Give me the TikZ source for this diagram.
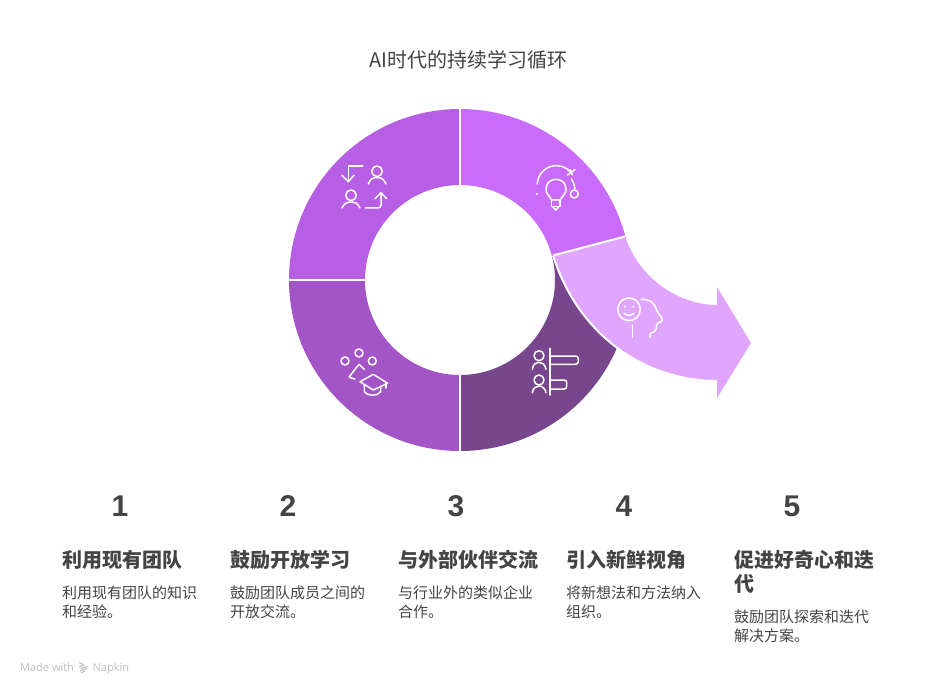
\documentclass[tikz,border=0pt]{standalone}
\usepackage{fontspec}
\setmainfont{Noto Sans CJK SC}
\newfontfamily\brand{Open Sans}
\newfontfamily\medcjk{Noto Sans CJK SC Medium}
\newfontfamily\numfont{Liberation Sans}
\definecolor{segA}{HTML}{C96BFB}
\definecolor{segB}{HTML}{B65FE4}
\definecolor{segC}{HTML}{A354C6}
\definecolor{segD}{HTML}{77468C}
\definecolor{segE}{HTML}{E0A6FE}
\definecolor{txt}{HTML}{444444}
\definecolor{brandgray}{HTML}{BDBDBD}
\tikzset{
  seg/.style={draw=none},
  gapline/.style={draw=white,line width=2pt},
  icon/.style={draw=white,line width=1.5pt,line cap=round,line join=round},
  logostroke/.style={draw=brandgray,line width=1pt,line cap=round},
  titletext/.style={anchor=base,text=txt,font=\fontsize{20}{24}\selectfont},
  numtext/.style={anchor=base,text=txt,font=\numfont\fontsize{30}{36}\selectfont\bfseries},
  headtext/.style={anchor=base west,text=txt,font=\medcjk\fontsize{20}{24}\selectfont\bfseries,inner sep=0pt},
  bodytext/.style={anchor=base west,text=txt,font=\fontsize{15}{20}\selectfont,inner sep=0pt},
  brandtext/.style={anchor=base west,text=brandgray,font=\brand\fontsize{11}{13}\selectfont,inner sep=0pt}
}
\newcommand{\ringseg}[3]{\fill[seg,#1] ([shift={(460,280)}]#2:171pt) arc[start angle=#2,end angle=#3,radius=171pt] -- ([shift={(460,280)}]#3:95pt) arc[start angle=#3,end angle=#2,radius=95pt] -- cycle;}
\begin{document}
\begin{tikzpicture}[x=1pt,y=-1pt]
\useasboundingbox (0,0) rectangle (936,692);
\fill[white] (0,0) rectangle (936,692);
% ring
\ringseg{segA}{90}{15}
\ringseg{segB}{180}{90}
\ringseg{segC}{270}{180}
\ringseg{segD}{15}{-90}
% arrow
\fill[segE] (553,255.5) -- (625,236.5) .. controls (640,280) and (680,305) .. (717,305)
  -- (717,287) -- (751,343) -- (717,398) -- (717,381)
  .. controls (650,381) and (580,340) .. (553,255.5) -- cycle;
\draw[gapline] (717,381) .. controls (650,381) and (580,340) .. (553,255.5);
\draw[gapline] (553,255.5) -- (625,236.5);
\draw[gapline] (460,109) -- (460,185);
\draw[gapline] (289,280) -- (365,280);
\draw[gapline] (460,375) -- (460,451);
% icon: exchange
\begin{scope}
\draw[icon] (362.7,166) -- (348.3,166) -- (348.3,181);
\draw[icon] (342,175.3) -- (348.3,181.7) -- (354,175.3);
\draw[icon] (377,171.3) circle[radius=5.3pt];
\draw[icon] (368.3,184) .. controls (370,179) and (373,177.5) .. (377,177.5) .. controls (381,177.5) and (384,179) .. (386,184);
\draw[icon] (351,195.3) circle[radius=5.3pt];
\draw[icon] (342,208) .. controls (344,203.5) and (347,202) .. (351,202) .. controls (355,202) and (358,203.5) .. (360,208);
\draw[icon] (365.3,208) -- (378,208) .. controls (380,208) and (381,207) .. (381,205) -- (381,193.3);
\draw[icon] (375,198.7) -- (381,192.7) -- (386.7,198.7);
\end{scope}
% icon: bulb
\begin{scope}
\draw[icon] (551.7,200) .. controls (549,195) and (546,194) .. (546,189.3) .. controls (546,183.5) and (550,179.3) .. (556,179.3) .. controls (562,179.3) and (566,183.5) .. (566,189.3) .. controls (566,194) and (563,195) .. (560,200) -- cycle;
\draw[icon] (551.7,200) -- (551.7,206.7) -- (560,206.7) -- (560,200);
\draw[icon] (553,207) -- (555.7,210) -- (558.5,207);
\draw[icon] (537.3,184) arc[start angle=178,end angle=45,radius=19pt];
\draw[icon] (571.5,179) arc[start angle=35,end angle=2,radius=19pt];
\draw[icon] (567.5,175) -- (575,169.5);
\draw[icon] (570,169.5) -- (572.5,175);
\draw[icon] (574.3,194) circle[radius=4pt];
\fill[white] (537,194) circle[radius=1.2pt];
\end{scope}
% icon: face
\begin{scope}
\draw[icon] (629,309.3) circle[radius=11.3pt];
\fill[white] (625,306.7) circle[radius=1.1pt];
\fill[white] (633.3,306.7) circle[radius=1.1pt];
\draw[icon] (624,313.3) .. controls (627,316) and (631,316) .. (634,313.3);
\draw[icon] (632.3,325) -- (632.3,337.3);
\draw[icon] (641,299.3) .. controls (650,298.5) and (655,304) .. (656.7,310) .. controls (658,315) and (663,317) .. (662.3,320.7) .. controls (661,323) and (657,322) .. (656.7,325) .. controls (657,331) and (653,333) .. (650,333.3) -- (650,337.3);
\end{scope}
% icon: people + bars
\begin{scope}
\draw[icon] (550,348.3) -- (550,395);
\draw[icon] (550,356) -- (575,356) .. controls (577.5,356) and (578.3,357) .. (578.3,359) -- (578.3,361.3) .. controls (578.3,363.3) and (577.5,364.3) .. (575,364.3) -- (550,364.3);
\draw[icon] (550,380) -- (564,380) .. controls (566,380) and (566.7,381) .. (566.7,383) -- (566.7,386) .. controls (566.7,388) and (566,389) .. (564,389) -- (550,389);
\draw[icon] (539,355.7) circle[radius=5pt];
\draw[icon] (532.3,369.3) .. controls (533,364) and (536,362.3) .. (539,362.3) .. controls (542,362.3) and (545,364) .. (546,369.3);
\draw[icon] (539,380) circle[radius=5pt];
\draw[icon] (532.3,392.7) .. controls (533,388) and (536,386) .. (539,386) .. controls (542,386) and (545,388) .. (546,392.7);
\end{scope}
% icon: graduation
\begin{scope}
\draw[icon] (345,361) circle[radius=4pt];
\draw[icon] (359,353) circle[radius=4pt];
\draw[icon] (372.3,361) circle[radius=4pt];
\draw[icon] (364.3,369.3) -- (359,364.3) -- (349.3,376.7) -- (349.8,377.5) -- (355,379);
\draw[icon] (360,381.7) -- (373.3,374.3) -- (387.7,383.3) -- (373.3,390) -- cycle;
\draw[icon] (364.3,385) -- (364.3,391.7) .. controls (367,396) and (377,397) .. (380.7,391.7) -- (380.7,386.5);
\draw[icon] (386,383) -- (386,388);
\end{scope}
% title
\node[titletext] (title) at (468.5,68) {AI时代的持续学习循环};
% numbers
\node[numtext] (n1) at (120,516.5) {1};
\node[numtext] (n2) at (288,516.5) {2};
\node[numtext] (n3) at (456,516.5) {3};
\node[numtext] (n4) at (624,516.5) {4};
\node[numtext] (n5) at (792,516.5) {5};
% headings
\node[headtext] (h1) at (62,567.5) {利用现有团队};
\node[headtext] (h2) at (230,567.5) {鼓励开放学习};
\node[headtext] (h3) at (398,567.5) {与外部伙伴交流};
\node[headtext] (h4) at (566,567.5) {引入新鲜视角};
\node[headtext] (h5a) at (734,567.5) {促进好奇心和迭};
\node[headtext] (h5b) at (734,591.5) {代};
% bodies
\node[bodytext] (b1a) at (62,598) {利用现有团队的知识};
\node[bodytext] (b1b) at (62,617) {和经验。};
\node[bodytext] (b2a) at (230,598) {鼓励团队成员之间的};
\node[bodytext] (b2b) at (230,617) {开放交流。};
\node[bodytext] (b3a) at (398,598) {与行业外的类似企业};
\node[bodytext] (b3b) at (398,617) {合作。};
\node[bodytext] (b4a) at (566,598) {将新想法和方法纳入};
\node[bodytext] (b4b) at (566,617) {组织。};
\node[bodytext] (b5a) at (734,622) {鼓励团队探索和迭代};
\node[bodytext] (b5b) at (734,641) {解决方案。};
% footer
\node[brandtext] (made) at (20,671) {Made with};
\node[brandtext] (napkin) at (92.5,671) {Napkin};
\draw[logostroke] (79.5,662.5) -- (84,665) -- (79.5,667);
\draw[logostroke] (81,668.5) -- (88,666.5);
\draw[logostroke] (80,671) -- (87,668.5);
\draw[logostroke] (81,673) -- (85,671);
\end{tikzpicture}
\end{document}
